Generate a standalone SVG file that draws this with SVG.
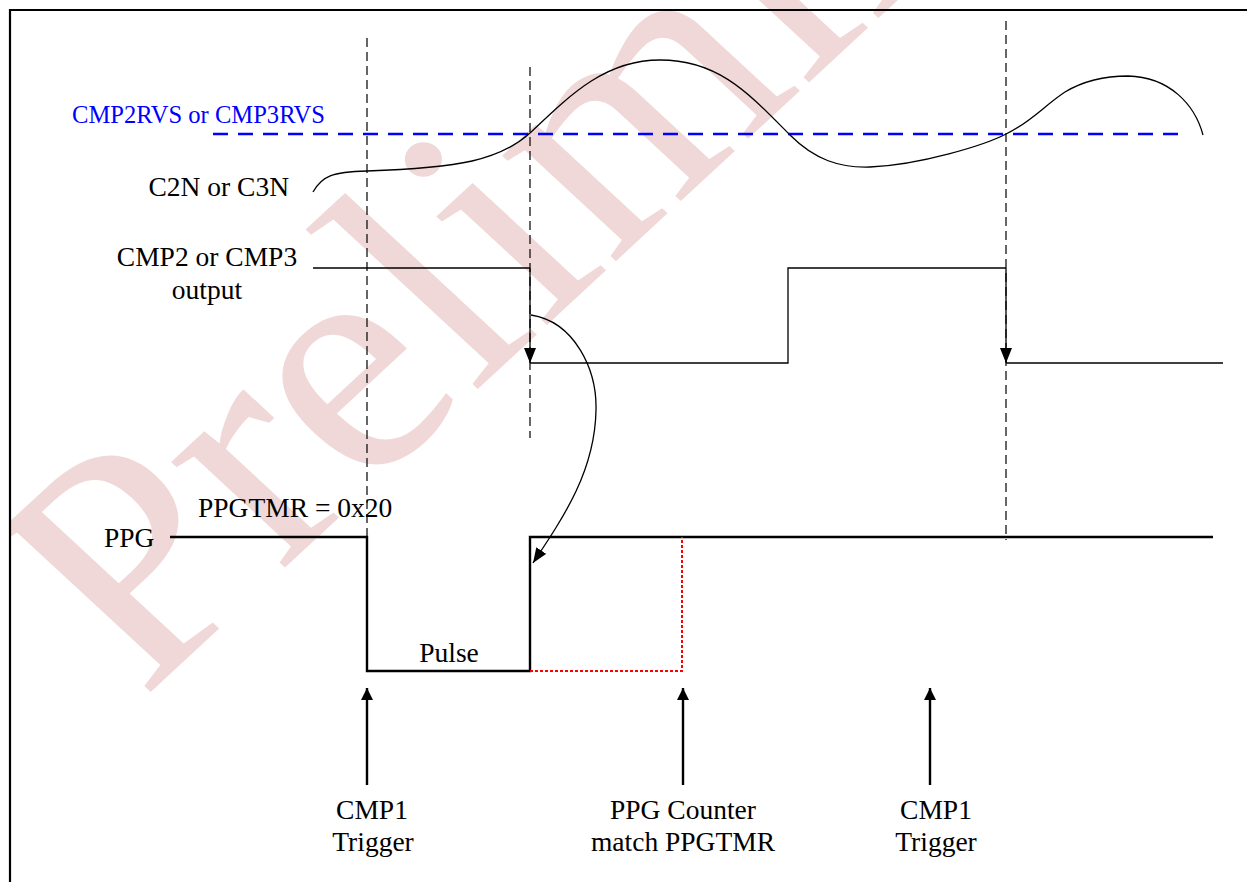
<svg xmlns="http://www.w3.org/2000/svg" width="1247" height="882" viewBox="0 0 1247 882">
<style>
.lbl{font-family:"Liberation Serif","Times New Roman",serif;font-size:27.5px;fill:#000}
.blue{font-family:"Liberation Serif","Times New Roman",serif;font-size:24.6px;fill:#0000ff}
.thin{fill:none;stroke:#000;stroke-width:1.3}
.thick{fill:none;stroke:#000;stroke-width:2.4}
.guide{fill:none;stroke:#000;stroke-width:1.2;stroke-dasharray:9 5}
.ref{fill:none;stroke:#0000ff;stroke-width:2.4;stroke-dasharray:15 10}
.red{fill:none;stroke:#ff0000;stroke-width:2;stroke-dasharray:3 2}
.wm{font-family:"Liberation Serif","Times New Roman",serif;font-size:325px;fill:#f0d8d8}
</style>
<defs>
<marker id="ah" markerUnits="userSpaceOnUse" markerWidth="16" markerHeight="12" refX="15" refY="6" orient="auto"><path d="M0,0 L15,6 L0,12 z" fill="#000"/></marker>
<marker id="ahb" markerUnits="userSpaceOnUse" markerWidth="13" markerHeight="12" refX="12" refY="6" orient="auto"><path d="M0,0 L12,6 L0,12 z" fill="#000"/></marker>
<clipPath id="wmclip"><rect x="11" y="0" width="1236" height="882"/></clipPath>
</defs>
<rect width="1247" height="882" fill="#fff"/>
<g id="watermark" clip-path="url(#wmclip)">
<text class="wm" transform="translate(142,700) scale(1.08,1) rotate(-45)">Preliminary</text>
</g>
<path id="frame" d="M10,882 V10 H1247" fill="none" stroke="#000" stroke-width="2.2"/>
<g id="guides">
<line class="guide" x1="367" y1="38" x2="367" y2="537"/>
<line class="guide" x1="530" y1="67" x2="530" y2="438"/>
<line class="guide" x1="1006" y1="21" x2="1006" y2="540"/>
</g>
<g id="reference-level">
<line class="ref" x1="213" y1="134" x2="1180" y2="134"/>
<text class="blue" x="72" y="123">CMP2RVS or CMP3RVS</text>
</g>
<g id="c2n-signal">
<text class="lbl" x="289" y="196" text-anchor="end">C2N or C3N</text>
<path class="thin" d="M313,192 C322,176 332,172 367,171 C460,168 500,160 530,133 C570,95 605,60 660,60 C720,60 750,95 790,135 C815,160 840,168 870,167 C920,165 985,145 1006,134 C1030,123 1045,105 1065,92 C1085,80 1105,76 1128,76 C1170,77 1195,105 1203,135"/>
</g>
<g id="cmp-output">
<text class="lbl" x="207" y="266" text-anchor="middle">CMP2 or CMP3</text>
<text class="lbl" x="207" y="299" text-anchor="middle">output</text>
<path class="thin" d="M313,268 H530 M530,363 H788 V268 H1006 M1006,363 H1223"/>
</g>
<g id="ppg-signal">
<text class="lbl" x="104" y="547">PPG</text>
<text class="lbl" x="198" y="517">PPGTMR = 0x20</text>
<path class="thick" d="M170,537 H367 V671 H530 V537 H1213"/>
<path class="red" d="M530,671 H682 V537"/>
<text class="lbl" x="449" y="662" text-anchor="middle">Pulse</text>
</g>
<g id="trigger-1">
<text class="lbl" x="372" y="819" text-anchor="middle">CMP1</text>
<text class="lbl" x="373" y="851" text-anchor="middle">Trigger</text>
</g>
<g id="counter-match">
<text class="lbl" x="683" y="819" text-anchor="middle">PPG Counter</text>
<text class="lbl" x="683" y="851" text-anchor="middle">match PPGTMR</text>
</g>
<g id="trigger-2">
<text class="lbl" x="936" y="819" text-anchor="middle">CMP1</text>
<text class="lbl" x="936" y="851" text-anchor="middle">Trigger</text>
</g>
<g id="connectors">
<line class="thin" x1="530" y1="268" x2="530" y2="363" marker-end="url(#ah)"/>
<line class="thin" x1="1006" y1="268" x2="1006" y2="363" marker-end="url(#ah)"/>
<path class="thin" d="M531,315 C575,322 597,370 596,410 C595,470 565,515 533,563" marker-end="url(#ah)"/>
<line class="thick" x1="367" y1="785" x2="367" y2="688" marker-end="url(#ahb)"/>
<line class="thick" x1="683" y1="785" x2="683" y2="688" marker-end="url(#ahb)"/>
<line class="thick" x1="930" y1="785" x2="930" y2="688" marker-end="url(#ahb)"/>
</g>
</svg>
